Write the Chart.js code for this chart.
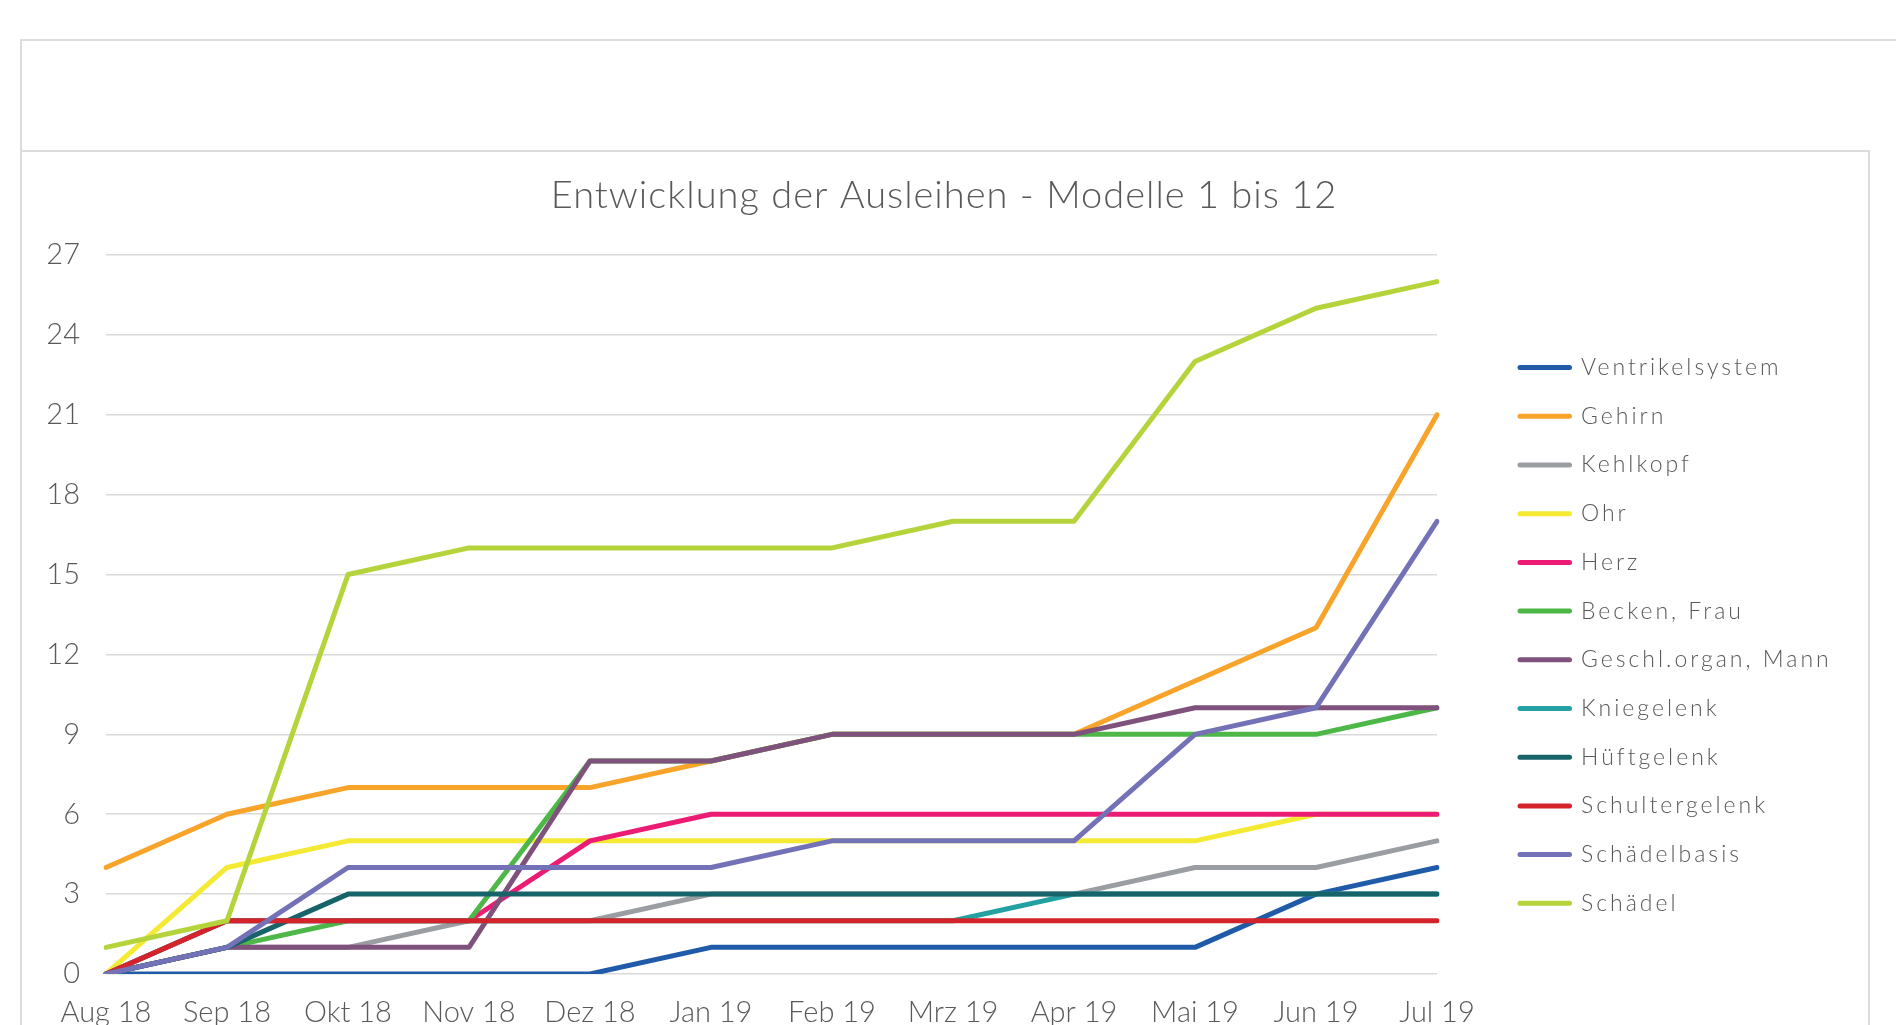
<!DOCTYPE html>
<html>
<head>
<meta charset="utf-8">
<script src="https://cdn.jsdelivr.net/npm/chart.js@4.4.1/dist/chart.umd.min.js"></script>
<style>
html, body { margin: 0; padding: 0; background: #ffffff; overflow: hidden; width: 1896px; height: 1025px; }
#outer { position: absolute; left: 20px; top: 39px; width: 1900px; height: 1100px; border-top: 2px solid #DCDCDC; border-left: 2px solid #DCDCDC; box-sizing: border-box; }
#inner { position: absolute; left: 20px; top: 150px; width: 1850px; height: 1000px; border: 2px solid #DCDCDC; box-sizing: border-box; background: #fff; }
#c { position: absolute; left: 21px; top: 152px; width: 1846px; height: 900px; }
</style>
</head>
<body>
<div id="outer"></div>
<div id="inner"></div>
<canvas id="c" width="1846" height="900"></canvas>
<script>
// ---- data ----
const months = ["Aug 18", "Sep 18", "Okt 18", "Nov 18", "Dez 18", "Jan 19", "Feb 19", "Mrz 19", "Apr 19", "Mai 19", "Jun 19", "Jul 19"];
const yTicks = [0, 3, 6, 9, 12, 15, 18, 21, 24, 27];
const seriesNames = ["Ventrikelsystem", "Gehirn", "Kehlkopf", "Ohr", "Herz", "Becken, Frau", "Geschl.organ, Mann", "Kniegelenk", "Hüftgelenk", "Schultergelenk", "Schädelbasis", "Schädel"];

const ventrikelsystem = [0, 0, 0, 0, 0, 1, 1, 1, 1, 1, 3, 4];
const gehirn          = [4, 6, 7, 7, 7, 8, 9, 9, 9, 11, 13, 21];
const kehlkopf        = [0, 1, 1, 2, 2, 3, 3, 3, 3, 4, 4, 5];
const ohr             = [0, 4, 5, 5, 5, 5, 5, 5, 5, 5, 6, 6];
const herz            = [0, 2, 2, 2, 5, 6, 6, 6, 6, 6, 6, 6];
const beckenFrau      = [0, 1, 2, 2, 8, 8, 9, 9, 9, 9, 9, 10];
const geschlOrganMann = [0, 1, 1, 1, 8, 8, 9, 9, 9, 10, 10, 10];
const kniegelenk      = [0, 2, 2, 2, 2, 2, 2, 2, 3, 3, 3, 3];
const hueftgelenk     = [0, 1, 3, 3, 3, 3, 3, 3, 3, 3, 3, 3];
const schultergelenk  = [0, 2, 2, 2, 2, 2, 2, 2, 2, 2, 2, 2];
const schaedelbasis   = [0, 1, 4, 4, 4, 4, 5, 5, 5, 9, 10, 17];
const schaedel        = [1, 2, 15, 16, 16, 16, 16, 17, 17, 23, 25, 26];

const seriesValues = [ventrikelsystem, gehirn, kehlkopf, ohr, herz, beckenFrau, geschlOrganMann, kniegelenk, hueftgelenk, schultergelenk, schaedelbasis, schaedel];

// ---- styles ----
const seriesColors = ["#1F5BA8", "#F8A42B", "#9A9EA3", "#F4EA34", "#EC1B74", "#4DB848", "#7E527D", "#23A0A2", "#17636A", "#D4232A", "#7472B6", "#B5D33B"];
const FONT = "Lato, 'Open Sans', 'DejaVu Sans', sans-serif";
const TEXT = "#595959";

Chart.defaults.font.family = FONT;
Chart.defaults.font.weight = 300;
Chart.defaults.color = TEXT;

const datasets = seriesNames.map((name, i) => ({
  label: name,
  data: seriesValues[i],
  borderColor: seriesColors[i],
  backgroundColor: seriesColors[i],
  borderWidth: 5,
  borderCapStyle: 'round',
  borderJoinStyle: 'round',
  pointRadius: 0,
  pointHoverRadius: 0,
  pointStyle: 'line',
  tension: 0,
  fill: false,
  order: -i
}));

// letter spacing for legend and title text (wider typeface look)
const spacingPlugin = {
  id: 'spacing',
  beforeDraw(chart) {
    const lg = chart.legend;
    if (lg && !lg.__wrapped) {
      lg.__wrapped = true;
      const orig = lg.draw;
      lg.draw = function () {
        const ctx = this.ctx;
        ctx.save();
        ctx.letterSpacing = '3px';
        if (typeof this._draw === 'function') { this._draw(); } else { orig.apply(this, arguments); }
        ctx.restore();
      };
    }
    const tb = chart.titleBlock;
    if (tb && !tb.__wrapped) {
      tb.__wrapped = true;
      const origT = tb.draw;
      tb.draw = function () {
        const ctx = this.ctx;
        ctx.save();
        ctx.letterSpacing = '1px';
        origT.apply(this, arguments);
        ctx.restore();
      };
    }
  }
};

new Chart(document.getElementById('c'), {
  type: 'line',
  data: { labels: months, datasets },
  plugins: [spacingPlugin],
  options: {
    responsive: false,
    animation: false,
    devicePixelRatio: 1,
    layout: { padding: { left: 0, top: 0, right: 0, bottom: 1.2 } },
    plugins: {
      tooltip: { enabled: false },
      title: {
        display: true,
        text: 'Entwicklung der Ausleihen - Modelle 1 bis 12',
        color: TEXT,
        font: { size: 38, weight: 300, family: FONT },
        padding: { top: 21, bottom: 36.4 }
      },
      legend: {
        display: true,
        position: 'right',
        align: 'start',
        fullSize: false,
        maxWidth: 250,
        title: { display: true, text: ' ', font: { size: 12 }, padding: { top: 0, bottom: 61 } },
        labels: {
          usePointStyle: true,
          pointStyleWidth: 49.5,
          boxHeight: 5,
          padding: 25.7,
          color: TEXT,
          font: { size: 23, weight: 300, family: FONT },
          generateLabels(chart) {
            const items = Chart.defaults.plugins.legend.labels.generateLabels(chart);
            items.sort((a, b) => a.datasetIndex - b.datasetIndex);
            return items.map(it => Object.assign(it, {
              pointStyle: 'line',
              lineCap: 'round',
              lineWidth: 5,
              strokeStyle: seriesColors[it.datasetIndex],
              fillStyle: seriesColors[it.datasetIndex]
            }));
          }
        }
      }
    },
    scales: {
      x: {
        type: 'category',
        offset: false,
        grid: { display: false, drawTicks: false },
        border: { display: false },
        ticks: { color: TEXT, font: { size: 29, weight: 300, family: FONT }, padding: 21, maxRotation: 0, autoSkip: false }
      },
      y: {
        min: 0,
        max: 27,
        afterBuildTicks(scale) { scale.ticks = yTicks.map(v => ({ value: v })); },
        afterFit(scale) { scale.width = 85; },
        grid: { color: '#D9D9D9', lineWidth: 1.5, drawTicks: false },
        border: { display: false },
        ticks: { color: TEXT, font: { size: 29, weight: 300, family: FONT }, padding: 26 }
      },
      ySpacer: {
        position: 'right',
        min: 0,
        max: 27,
        display: true,
        weight: 0,
        afterFit(scale) { scale.width = 57.3; },
        grid: { display: false, drawTicks: false },
        border: { display: false },
        ticks: { display: false }
      },
      ySpacerOuter: {
        position: 'right',
        min: 0,
        max: 27,
        display: true,
        weight: 2000,
        afterFit(scale) { scale.width = 122.7; },
        grid: { display: false, drawTicks: false },
        border: { display: false },
        ticks: { display: false }
      }
    }
  }
});
</script>
</body>
</html>
